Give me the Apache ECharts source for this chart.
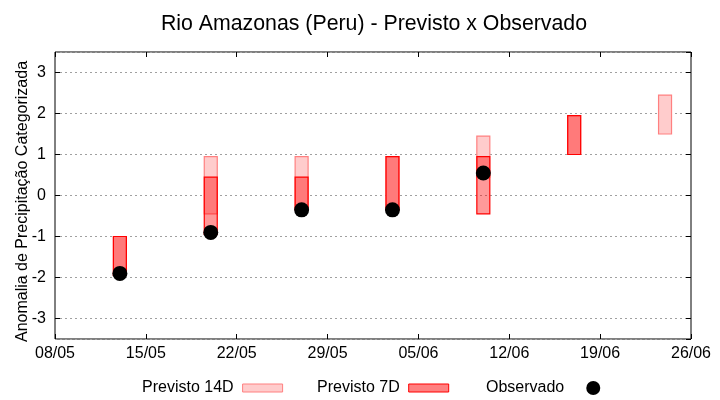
<!DOCTYPE html>
<html>
<head>
<meta charset="utf-8">
<script src="https://cdn.jsdelivr.net/npm/echarts@6/dist/echarts.min.js"></script>
<style>html,body{margin:0;padding:0;background:#fff}#c{width:720px;height:400px}</style>
</head>
<body>
<div id="c"></div>
<script>
// ---- data ----
const baseDate = '08/05';
const xTickLabels = ['08/05', '15/05', '22/05', '29/05', '05/06', '12/06', '19/06', '26/06'];
const dates = ['13/05', '20/05', '27/05', '03/06', '10/06', '17/06', '24/06'];
const prev14Low  = [-1.95, -0.45, -0.35, -0.35, 0.45, 1.0, 1.5];
const prev14High = [-1.0, 0.95, 0.95, 0.95, 1.45, 1.95, 2.45];
const prev7Low   = [-1.95, -0.95, -0.35, -0.35, -0.45, 1.0, null];
const prev7High  = [-1.0, 0.45, 0.45, 0.95, 0.95, 1.95, null];
const observed   = [-1.9, -0.9, -0.35, -0.35, 0.55, null, null];

// ---- helpers ----
function dayOffset(s) {
  const [d, m] = s.split('/').map(Number);
  const [bd, bm] = baseDate.split('/').map(Number);
  return Math.round((Date.UTC(2024, m - 1, d) - Date.UTC(2024, bm - 1, bd)) / 86400000);
}
const xs = dates.map(dayOffset);
const box14 = xs.map((x, i) => [x, prev14Low[i], prev14High[i]]).filter(r => r[1] != null);
const box7 = xs.map((x, i) => [x, prev7Low[i], prev7High[i]]).filter(r => r[1] != null);
const obs = xs.map((x, i) => [x, observed[i]]).filter(r => r[1] != null);

const FONT = 'Liberation Sans';
const c14Fill = '#ffcccc', c14Border = '#ff8080';
const c7Fill = 'rgba(255,0,0,0.4)', c7Border = '#ff0000';

function boxRenderer(fill, stroke) {
  return function (params, api) {
    const x = api.value(0), lo = api.value(1), hi = api.value(2);
    const p1 = api.coord([x - 0.5, hi]);
    const p2 = api.coord([x + 0.5, lo]);
    return {
      type: 'rect',
      shape: { x: p1[0], y: p1[1], width: p2[0] - p1[0], height: p2[1] - p1[1] },
      style: { fill: fill, stroke: stroke, lineWidth: 1.2 }
    };
  };
}

const chart = echarts.init(document.getElementById('c'), null, { renderer: 'canvas' });
const xMax = dayOffset(xTickLabels[xTickLabels.length - 1]);

const legendCommon = {
  orient: 'horizontal', align: 'right', top: 375, itemWidth: 40, itemHeight: 8,
  textStyle: { fontFamily: FONT, fontSize: 16, color: '#000', padding: [0, 4, 0, 0] },
  selectedMode: false
};
const tickStyle = { show: true, inside: true, length: 5, lineStyle: { color: '#000' } };

chart.setOption({
  animation: false,
  backgroundColor: '#fff',
  textStyle: { fontFamily: FONT },
  title: {
    text: 'Rio Amazonas (Peru) - Previsto x Observado',
    left: 369, top: 9, textAlign: 'center',
    textStyle: { fontFamily: FONT, fontSize: 21.3, fontWeight: 'normal', color: '#000' }
  },
  legend: [
    Object.assign({}, legendCommon, { left: 137, data: [{ name: 'Previsto 14D', icon: 'rect', itemStyle: { color: c14Fill, borderColor: c14Border, borderWidth: 1 } }] }),
    Object.assign({}, legendCommon, { left: 312, data: [{ name: 'Previsto 7D', icon: 'rect', itemStyle: { color: '#ff8080', borderColor: c7Border, borderWidth: 1 } }] }),
    Object.assign({}, legendCommon, { left: 481, itemHeight: 14, data: [{ name: 'Observado', icon: 'circle', itemStyle: { color: '#000' } }] })
  ],
  grid: { left: 55, right: 29, top: 52, bottom: 61, show: true, borderColor: '#000', borderWidth: 1,
    containLabel: false, outerBoundsMode: 'none' },
  xAxis: [{
    type: 'value', min: 0, max: xMax, interval: 7,
    axisLine: { show: false, onZero: false },
    axisTick: tickStyle,
    splitLine: { show: false },
    axisLabel: { fontFamily: FONT, fontSize: 16, color: '#000', margin: 7,
      formatter: v => xTickLabels[Math.round(v / 7)] || '' }
  }, {
    type: 'value', position: 'top', min: 0, max: xMax, interval: 7,
    axisLine: { show: false, onZero: false },
    axisTick: tickStyle,
    splitLine: { show: false }, axisLabel: { show: false }
  }],
  yAxis: [{
    type: 'value', min: -3.5, max: 3.5, splitNumber: 7,
    name: 'Anomalia de Precipitação Categorizada', nameLocation: 'middle', nameGap: 24, nameRotate: 90,
    nameMoveOverlap: false,
    nameTextStyle: { fontFamily: FONT, fontSize: 16, color: '#000', padding: [0, 12, 0, 0] },
    axisLine: { show: false, onZero: false },
    axisTick: tickStyle,
    splitLine: { show: true, lineStyle: { color: '#a0a0a0', type: [2, 3], width: 1 } },
    axisLabel: { fontFamily: FONT, fontSize: 16, color: '#000', margin: 9, showMinLabel: false, showMaxLabel: false,
      formatter: v => (Number.isInteger(v) ? String(v) : '') }
  }, {
    type: 'value', position: 'right', min: -3.5, max: 3.5, splitNumber: 7,
    axisLine: { show: false, onZero: false },
    axisTick: tickStyle,
    splitLine: { show: false }, axisLabel: { show: false }
  }],
  series: [
    { name: 'Previsto 14D', type: 'custom', renderItem: boxRenderer(c14Fill, c14Border),
      encode: { x: 0, y: [1, 2] }, data: box14, z: 2 },
    { name: 'Previsto 7D', type: 'custom', renderItem: boxRenderer(c7Fill, c7Border),
      encode: { x: 0, y: [1, 2] }, data: box7, z: 3 },
    { name: 'Observado', type: 'scatter', symbol: 'circle', symbolSize: 15,
      itemStyle: { color: '#000', opacity: 1 }, data: obs, z: 4 }
  ]
});
</script>
</body>
</html>
